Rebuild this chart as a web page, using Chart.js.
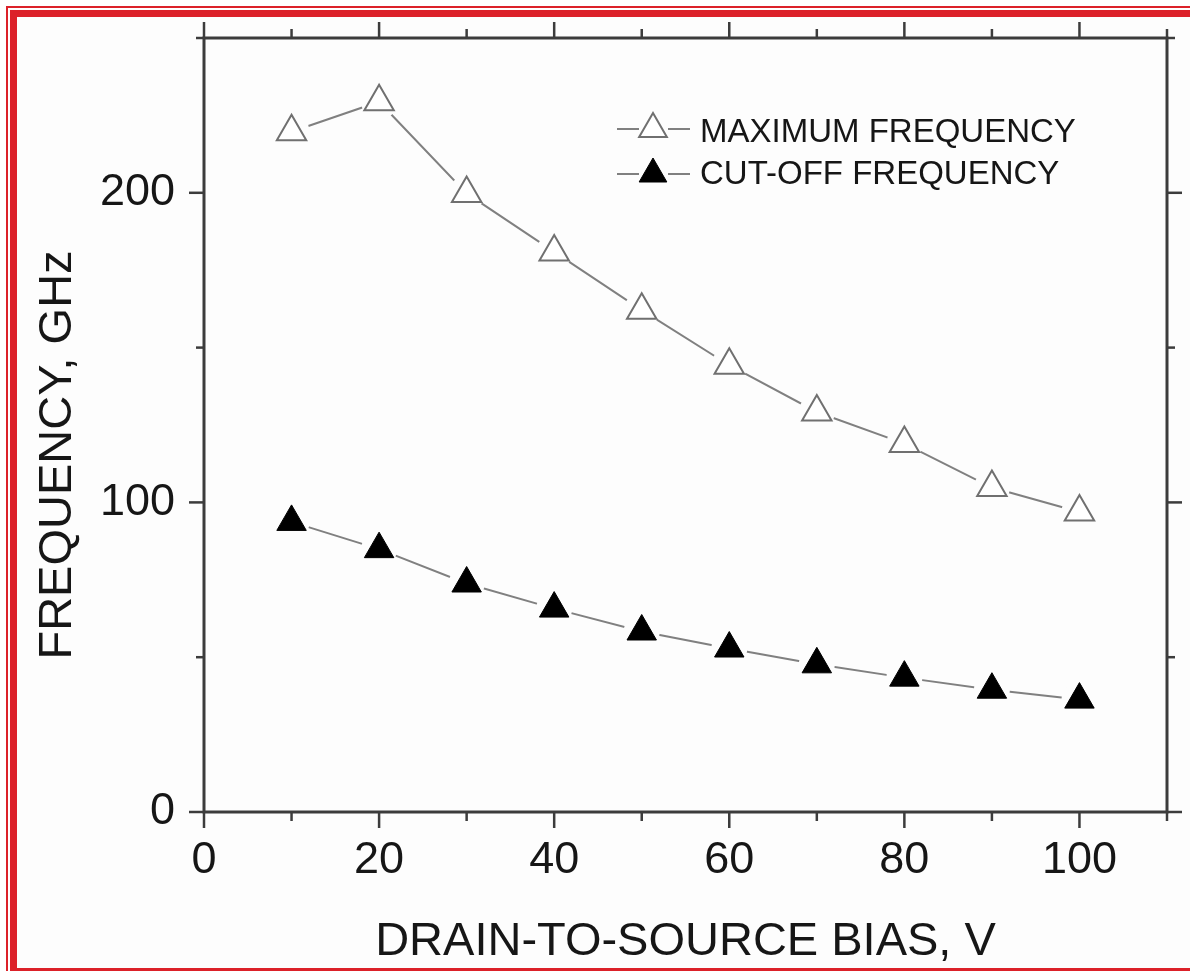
<!DOCTYPE html>
<html>
<head>
<meta charset="utf-8">
<script src="https://cdn.jsdelivr.net/npm/chart.js@4.4.1/dist/chart.umd.min.js"></script>
<style>
  html, body { margin: 0; padding: 0; background: #fff; overflow: hidden; }
  body { width: 1190px; height: 971px; position: relative; overflow: hidden; }
  .red { position: absolute; background: #dc2129; }
  .inner { position: absolute; left: 17px; top: 17px; width: 1173px; height: 951px; background: #fdfdfd; }
  #wrap { position: absolute; left: 0; top: 0; width: 1190px; height: 971px; }
</style>
</head>
<body>
<!-- double red frame: thin outer line, thick inner line (right edge is cut off) -->
<div class="red" style="left:6px; top:6px; width:1184px; height:2px"></div>
<div class="red" style="left:6px; top:6px; width:2px; height:965px"></div>
<div class="red" style="left:10px; top:10px; width:1180px; height:7px"></div>
<div class="red" style="left:10px; top:10px; width:7px; height:961px"></div>
<div class="red" style="left:10px; top:968px; width:1180px; height:3px"></div>
<div class="inner"></div>
<div id="wrap"><canvas id="grafico"></canvas></div>
<script>
// data
const bias = [10, 20, 30, 40, 50, 60, 70, 80, 90, 100];
const maxFreq = [219.7, 229.4, 199.8, 180.9, 162.1, 144.3, 129.2, 119.0, 104.8, 96.9];
const cutoffFreq = [93.7, 84.9, 73.8, 65.7, 58.3, 52.8, 47.7, 43.4, 39.5, 36.3];
const xTickLabels = [0, 20, 40, 60, 80, 100];
const yTickLabels = [0, 100, 200];
const seriesNames = ["MAXIMUM FREQUENCY", "CUT-OFF FREQUENCY"];
const xTitle = "DRAIN-TO-SOURCE BIAS, V";
const yTitle = "FREQUENCY, GHz";

const FONT = "'Liberation Sans', Arial, Helvetica, sans-serif";
const BG = "#fdfdfd";
const LINE = "#808080";
const AXIS = "#3c3c3c";
const TEXT = "#161616";

const pts = arr => bias.map((x, i) => ({ x, y: arr[i] }));

function tri(ctx, x, y, r) {
  ctx.beginPath();
  for (let k = 0; k < 3; k++) {
    const a = k * 2 * Math.PI / 3;
    const px = x + Math.sin(a) * r, py = y - Math.cos(a) * r;
    k ? ctx.lineTo(px, py) : ctx.moveTo(px, py);
  }
  ctx.closePath();
}

// frame, tick marks, titles and legend
const decor = {
  id: "decor",
  afterDatasetsDraw(chart) {
    const { ctx, chartArea: a, scales: { x, y } } = chart;
    const seg = (x1, y1, x2, y2) => { ctx.beginPath(); ctx.moveTo(x1, y1); ctx.lineTo(x2, y2); ctx.stroke(); };
    ctx.save();
    ctx.strokeStyle = AXIS;
    ctx.lineWidth = 3;
    ctx.strokeRect(a.left, a.top, a.right - a.left, a.bottom - a.top);

    ctx.lineWidth = 2.5;
    x.ticks.forEach(t => {
      const px = x.getPixelForValue(t.value);
      const len = xTickLabels.includes(t.value) ? 16 : 9;
      seg(px, a.bottom, px, a.bottom + len);
      seg(px, a.top, px, a.top - len);
    });
    y.ticks.forEach(t => {
      const py = y.getPixelForValue(t.value);
      const len = yTickLabels.includes(t.value) ? 15 : 8;
      seg(a.left, py, a.left - len, py);
      seg(a.right, py, a.right + len, py);
    });

    ctx.fillStyle = TEXT;
    ctx.font = "47px " + FONT;
    ctx.textAlign = "center";
    ctx.textBaseline = "alphabetic";
    ctx.fillText(xTitle, (a.left + a.right) / 2, 955);
    ctx.save();
    ctx.translate(71, 455);
    ctx.rotate(-Math.PI / 2);
    ctx.fillText(yTitle, 0, 0);
    ctx.restore();

    // legend
    const rows = [
      { yc: 129, fill: "#fff", stroke: "#707070", base: 142 },
      { yc: 174, fill: "#000", stroke: "#000", base: 183.5 }
    ];
    rows.forEach((r, i) => {
      ctx.strokeStyle = LINE;
      ctx.lineWidth = 2;
      seg(617, r.yc, 639, r.yc);
      seg(668, r.yc, 690, r.yc);
      tri(ctx, 653, r.yc, 16);
      ctx.fillStyle = r.fill;
      ctx.fill();
      ctx.strokeStyle = r.stroke;
      ctx.lineWidth = i ? 1 : 2;
      ctx.stroke();
      ctx.fillStyle = TEXT;
      ctx.font = "33px " + FONT;
      ctx.textAlign = "left";
      ctx.fillText(seriesNames[i], 700, r.base);
    });
    ctx.restore();
  }
};

new Chart(document.getElementById("grafico"), {
  type: "scatter",
  data: {
    datasets: [
      { label: seriesNames[0], data: pts(maxFreq), showLine: true, borderColor: LINE, borderWidth: 2, pointRadius: 0, order: 3 },
      { label: seriesNames[1], data: pts(cutoffFreq), showLine: true, borderColor: LINE, borderWidth: 2, pointRadius: 0, order: 3 },
      // white halos so the lines stop short of the markers
      { data: pts(maxFreq), pointStyle: "circle", pointRadius: 18, pointBackgroundColor: BG, pointBorderWidth: 0, order: 2 },
      { data: pts(cutoffFreq), pointStyle: "circle", pointRadius: 18, pointBackgroundColor: BG, pointBorderWidth: 0, order: 2 },
      { data: pts(maxFreq), pointStyle: "triangle", pointRadius: 17, pointBackgroundColor: "#fff", pointBorderColor: "#707070", pointBorderWidth: 2, order: 1 },
      { data: pts(cutoffFreq), pointStyle: "triangle", pointRadius: 17, pointBackgroundColor: "#000", pointBorderColor: "#000", pointBorderWidth: 1, order: 1 }
    ]
  },
  options: {
    responsive: true,
    maintainAspectRatio: false,
    animation: false,
    events: [],
    layout: { padding: { top: 38, right: 23, left: 0, bottom: 0 } },
    plugins: { legend: { display: false }, tooltip: { enabled: false } },
    scales: {
      x: {
        type: "linear", min: 0, max: 110,
        afterFit: s => { s.height = 159; s.paddingLeft = 0; s.paddingRight = 0; },
        grid: { display: false, drawTicks: false },
        border: { display: false },
        ticks: {
          stepSize: 10, autoSkip: false, maxRotation: 0, padding: 22, color: TEXT,
          font: { family: FONT, size: 45 },
          callback: v => xTickLabels.includes(v) ? String(v) : ""
        }
      },
      y: {
        min: 0, max: 250,
        afterFit: s => { s.width = 204; s.paddingTop = 0; s.paddingBottom = 0; },
        grid: { display: false, drawTicks: false },
        border: { display: false },
        ticks: {
          stepSize: 50, autoSkip: false, padding: 29, color: TEXT,
          font: { family: FONT, size: 45 },
          callback: v => yTickLabels.includes(v) ? String(v) : ""
        }
      }
    }
  },
  plugins: [decor]
});
</script>
</body>
</html>
